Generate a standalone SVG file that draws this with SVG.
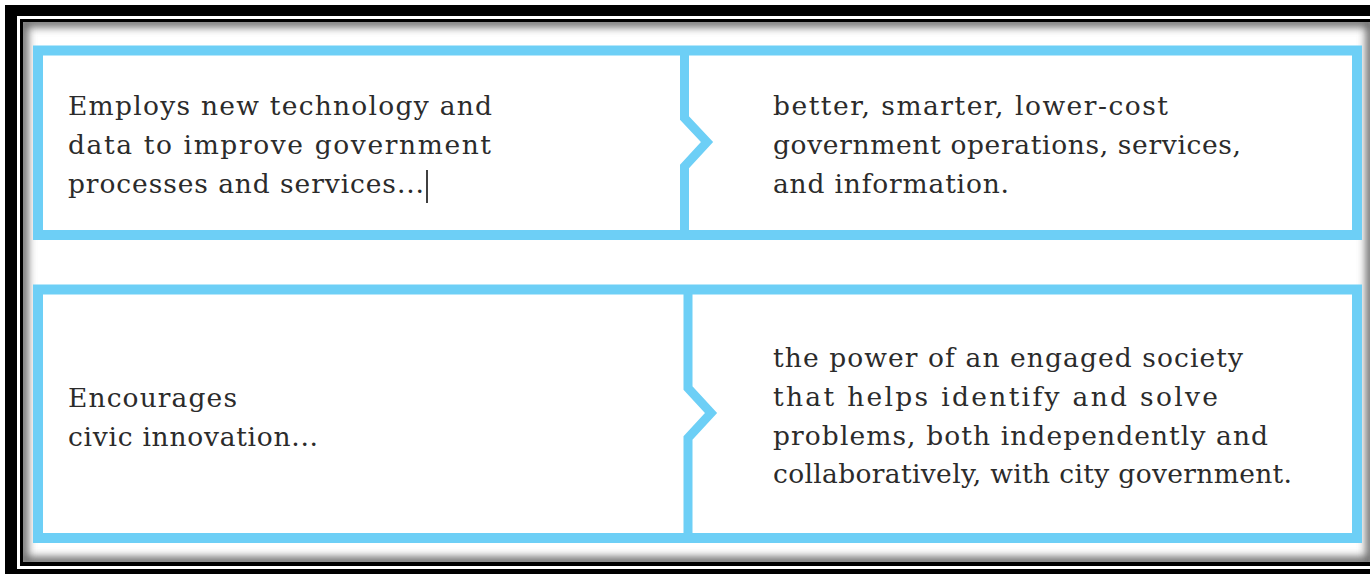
<svg xmlns="http://www.w3.org/2000/svg" width="1370" height="574" viewBox="0 0 1370 574">
<defs>
<style>
.panel{fill:none;stroke:#6dcff6;stroke-width:10;stroke-linejoin:miter}
.div{fill:none;stroke:#6dcff6;stroke-width:9;stroke-linejoin:miter}
.t{font-family:"DejaVu Serif","Liberation Serif",serif;font-size:26.5px;fill:#2b2b2b}
</style>
<clipPath id="inner"><rect x="23" y="22" width="1348" height="540"/></clipPath>
<filter id="blur" x="-5%" y="-5%" width="110%" height="110%"><feGaussianBlur stdDeviation="4"/></filter>
</defs>
<rect x="0" y="0" width="1370" height="574" fill="#ffffff"/>
<g id="frame">
<rect x="5" y="5" width="1400" height="600" fill="#000"/>
<rect x="17" y="16" width="1400" height="553" fill="#fff"/>
<rect x="20" y="19" width="1400" height="547" fill="#000"/>
<rect x="23" y="22" width="1348" height="540" fill="#fff"/>
<g clip-path="url(#inner)">
<rect x="23" y="22" width="1348" height="540" fill="none" stroke="#666" stroke-width="10" filter="url(#blur)"/>
</g>
</g>
<g id="panel-top">
<rect class="panel" x="38" y="50.5" width="1319" height="184.5"/>
</g>
<g id="panel-bottom">
<rect class="panel" x="38" y="289.5" width="1319" height="248.5"/>
</g>
<g id="connectors">
<path class="div" d="M684.5 55 V118 L707 142 L684.5 166.5 V231"/>
<path class="div" d="M688 294 V388 L711 413 L688 438 V534"/>
</g>
<g id="node-top-left">
<text class="t" x="68" y="115" textLength="424" lengthAdjust="spacing">Employs new technology and</text>
<text class="t" x="68" y="154" textLength="423" lengthAdjust="spacing">data to improve government</text>
<text class="t" x="68" y="193" textLength="356" lengthAdjust="spacing">processes and services...</text>
<line x1="427" y1="170" x2="427" y2="203" stroke="#000" stroke-width="1.5"/>
</g>
<g id="node-top-right">
<text class="t" x="773" y="115" textLength="395" lengthAdjust="spacing">better, smarter, lower-cost</text>
<text class="t" x="773" y="154" textLength="468" lengthAdjust="spacing">government operations, services,</text>
<text class="t" x="773" y="193" textLength="236" lengthAdjust="spacing">and information.</text>
</g>
<g id="node-bottom-left">
<text class="t" x="68" y="407" textLength="169" lengthAdjust="spacing">Encourages</text>
<text class="t" x="68" y="446" textLength="250" lengthAdjust="spacing">civic innovation...</text>
</g>
<g id="node-bottom-right">
<text class="t" x="773" y="367" textLength="470" lengthAdjust="spacing">the power of an engaged society</text>
<text class="t" x="773" y="406" textLength="445" lengthAdjust="spacing">that helps identify and solve</text>
<text class="t" x="773" y="445" textLength="495" lengthAdjust="spacing">problems, both independently and</text>
<text class="t" x="773" y="483" textLength="519" lengthAdjust="spacing">collaboratively, with city government.</text>
</g>
</svg>
